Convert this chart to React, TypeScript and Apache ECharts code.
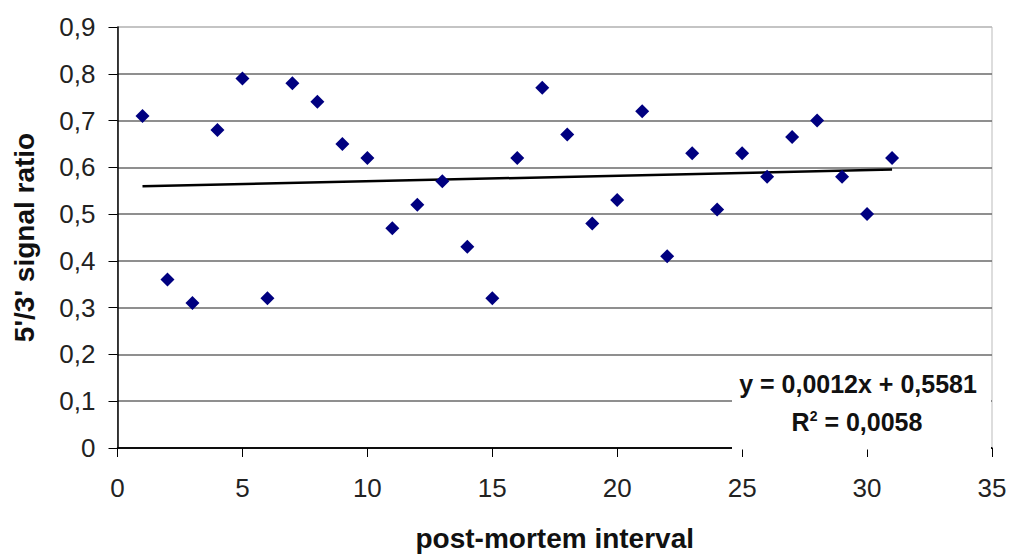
import React, { useEffect, useRef } from "react";
import * as echarts from "echarts";

const intervals = [1, 2, 3, 4, 5, 6, 7, 8, 9, 10, 11, 12, 13, 14, 15, 16, 17, 18, 19, 20, 21, 22, 23, 24, 25, 26, 27, 28, 29, 30, 31];
const ratios = [0.71, 0.36, 0.31, 0.68, 0.79, 0.32, 0.78, 0.74, 0.65, 0.62, 0.47, 0.52, 0.57, 0.43, 0.32, 0.62, 0.77, 0.67, 0.48, 0.53, 0.72, 0.41, 0.63, 0.51, 0.63, 0.58, 0.665, 0.70, 0.58, 0.50, 0.62];
const trendSlope = 0.0012;
const trendIntercept = 0.5581;
const trendRange = [1, 31];
const equationLines = ["y = 0,0012x + 0,5581", "R{sup|2} = 0,0058"];
const xTitle = "post-mortem interval";
const yTitle = "5'/3' signal ratio";

const FONT = "'Liberation Sans', Arial, Helvetica, sans-serif";

export default function App() {
  const ref = useRef<HTMLDivElement>(null);
  useEffect(() => {
    document.body.style.margin = "0";
    if (!ref.current) return;
    const chart = echarts.init(ref.current, null, { renderer: "svg" });
    const points = intervals.map((x, i) => [x, ratios[i]]);
    const trend = trendRange.map((x) => [x, trendSlope * x + trendIntercept]);
    const gridColors = ["#000", "#6a6a6a", "#6a6a6a", "#6a6a6a", "#6a6a6a", "#6a6a6a", "#6a6a6a", "#6a6a6a", "#6a6a6a", "#bbbbbb"];
    chart.setOption({
      animation: false,
      backgroundColor: "#fff",
      textStyle: { fontFamily: FONT },
      grid: {
        left: 117.5,
        right: 19,
        top: 27,
        bottom: 106,
        show: true,
        borderColor: "#bbbbbb",
        borderWidth: 1,
        backgroundColor: "transparent",
      },
      xAxis: {
        type: "value",
        min: 0,
        max: 35,
        interval: 5,
        name: xTitle,
        nameLocation: "middle",
        nameGap: 76,
        nameTextStyle: { fontSize: 28, fontWeight: "bold", color: "#111", fontFamily: FONT },
        axisLine: { show: true, lineStyle: { color: "#000", width: 1.5 } },
        axisTick: { show: true, length: 9, lineStyle: { color: "#000" } },
        axisLabel: { fontSize: 26, color: "#222", margin: 27, fontFamily: FONT },
        splitLine: { show: false },
      },
      yAxis: {
        type: "value",
        min: 0,
        max: 0.9,
        interval: 0.1,
        name: yTitle,
        nameLocation: "middle",
        nameGap: 79,
        nameTextStyle: { fontSize: 28, fontWeight: "bold", color: "#111", fontFamily: FONT },
        axisLine: { show: true, lineStyle: { color: "#000", width: 1.5 } },
        axisTick: { show: true, length: 9, lineStyle: { color: "#000" } },
        axisLabel: {
          fontSize: 26,
          color: "#222",
          margin: 22,
          fontFamily: FONT,
          formatter: (v: number) => (v === 0 ? "0" : v.toFixed(1).replace(".", ",")),
        },
        splitLine: { show: true, lineStyle: { color: gridColors, width: 1.5 } },
      },
      graphic: [
        {
          type: "rect",
          z: 10,
          shape: { x: 732, y: 358, width: 259, height: 91.5 },
          style: { fill: "#fff", stroke: "none" },
        },
        {
          type: "text",
          z: 11,
          x: 858,
          y: 384,
          style: {
            text: equationLines[0],
            align: "center",
            verticalAlign: "middle",
            font: `bold 25px ${FONT}`,
            fill: "#111",
          },
        },
        {
          type: "text",
          z: 11,
          x: 857,
          y: 422,
          style: {
            text: equationLines[1],
            align: "center",
            verticalAlign: "middle",
            font: `bold 25px ${FONT}`,
            fill: "#111",
            rich: {
              sup: { fontSize: 14, fontWeight: "bold", fontFamily: FONT, padding: [0, 0, 12, 0], fill: "#111" },
            },
          },
        },
      ],
      series: [
        {
          type: "line",
          data: trend,
          showSymbol: false,
          symbol: "none",
          lineStyle: { color: "#000", width: 2.5 },
          z: 2,
        },
        {
          type: "scatter",
          data: points,
          symbol: "diamond",
          symbolSize: [14, 14],
          itemStyle: { color: "#000080", opacity: 1 },
          z: 3,
        },
      ],
    });
    return () => chart.dispose();
  }, []);
  return <div ref={ref} style={{ width: 1011, height: 557 }} />;
}
